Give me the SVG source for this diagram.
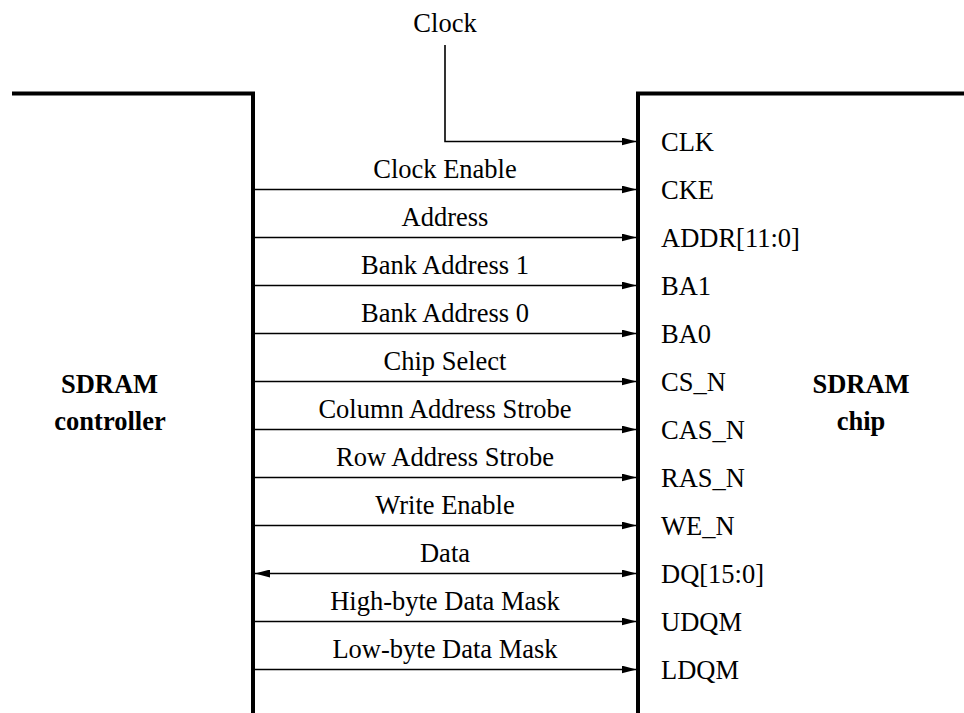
<svg xmlns="http://www.w3.org/2000/svg" width="964" height="713" viewBox="0 0 964 713">
<defs>
<marker id="arrEnd" markerUnits="userSpaceOnUse" markerWidth="16" markerHeight="9" refX="15" refY="4" orient="auto">
<path d="M0,0 L15,4 L0,8 z" fill="#000"/>
</marker>
<marker id="arrStart" markerUnits="userSpaceOnUse" markerWidth="16" markerHeight="9" refX="0" refY="4" orient="auto">
<path d="M15,0 L0,4 L15,8 z" fill="#000"/>
</marker>
</defs>
<g id="controller">
<path fill="none" stroke="#000" stroke-width="4" d="M12,93.5 H253 V713"/>
<text font-family="Tinos" font-size="26.5" font-weight="bold" text-anchor="middle" x="109.5" y="393">SDRAM</text>
<text font-family="Tinos" font-size="26.5" font-weight="bold" text-anchor="middle" x="110" y="430">controller</text>
</g>
<g id="chip">
<path fill="none" stroke="#000" stroke-width="4" d="M964,93.5 H638 V713"/>
<text font-family="Tinos" font-size="26.5" font-weight="bold" text-anchor="middle" x="861" y="393">SDRAM</text>
<text font-family="Tinos" font-size="26.5" font-weight="bold" text-anchor="middle" x="861" y="430">chip</text>
<text font-family="Tinos" font-size="26.5" x="661" y="151">CLK</text>
<text font-family="Tinos" font-size="26.5" x="661" y="199">CKE</text>
<text font-family="Tinos" font-size="26.5" x="661" y="247">ADDR[11:0]</text>
<text font-family="Tinos" font-size="26.5" x="661" y="295">BA1</text>
<text font-family="Tinos" font-size="26.5" x="661" y="343">BA0</text>
<text font-family="Tinos" font-size="26.5" x="661" y="391">CS_N</text>
<text font-family="Tinos" font-size="26.5" x="661" y="439">CAS_N</text>
<text font-family="Tinos" font-size="26.5" x="661" y="487">RAS_N</text>
<text font-family="Tinos" font-size="26.5" x="661" y="535">WE_N</text>
<text font-family="Tinos" font-size="26.5" x="661" y="583">DQ[15:0]</text>
<text font-family="Tinos" font-size="26.5" x="661" y="631">UDQM</text>
<text font-family="Tinos" font-size="26.5" x="661" y="679">LDQM</text>
</g>
<g id="clock">
<text font-family="Tinos" font-size="26.5" text-anchor="middle" x="445" y="32">Clock</text>
</g>
<g id="connectors" fill="none" stroke="#000" stroke-width="1.6">
<path d="M445,45 V141.5 H636.5" marker-end="url(#arrEnd)"/>
<path d="M255,189.5 H636.5" marker-end="url(#arrEnd)"/>
<path d="M255,237.5 H636.5" marker-end="url(#arrEnd)"/>
<path d="M255,285.5 H636.5" marker-end="url(#arrEnd)"/>
<path d="M255,333.5 H636.5" marker-end="url(#arrEnd)"/>
<path d="M255,381.5 H636.5" marker-end="url(#arrEnd)"/>
<path d="M255,429.5 H636.5" marker-end="url(#arrEnd)"/>
<path d="M255,477.5 H636.5" marker-end="url(#arrEnd)"/>
<path d="M255,525.5 H636.5" marker-end="url(#arrEnd)"/>
<path d="M255,573.5 H636.5" marker-start="url(#arrStart)" marker-end="url(#arrEnd)"/>
<path d="M255,621.5 H636.5" marker-end="url(#arrEnd)"/>
<path d="M255,669.5 H636.5" marker-end="url(#arrEnd)"/>
</g>
<g id="signal-labels">
<text font-family="Tinos" font-size="26.5" text-anchor="middle" x="445" y="178">Clock Enable</text>
<text font-family="Tinos" font-size="26.5" text-anchor="middle" x="445" y="226">Address</text>
<text font-family="Tinos" font-size="26.5" text-anchor="middle" x="445" y="274">Bank Address 1</text>
<text font-family="Tinos" font-size="26.5" text-anchor="middle" x="445" y="322">Bank Address 0</text>
<text font-family="Tinos" font-size="26.5" text-anchor="middle" x="445" y="370">Chip Select</text>
<text font-family="Tinos" font-size="26.5" text-anchor="middle" x="445" y="418">Column Address Strobe</text>
<text font-family="Tinos" font-size="26.5" text-anchor="middle" x="445" y="466">Row Address Strobe</text>
<text font-family="Tinos" font-size="26.5" text-anchor="middle" x="445" y="514">Write Enable</text>
<text font-family="Tinos" font-size="26.5" text-anchor="middle" x="445" y="562">Data</text>
<text font-family="Tinos" font-size="26.5" text-anchor="middle" x="445" y="610">High-byte Data Mask</text>
<text font-family="Tinos" font-size="26.5" text-anchor="middle" x="445" y="658">Low-byte Data Mask</text>
</g>
</svg>
